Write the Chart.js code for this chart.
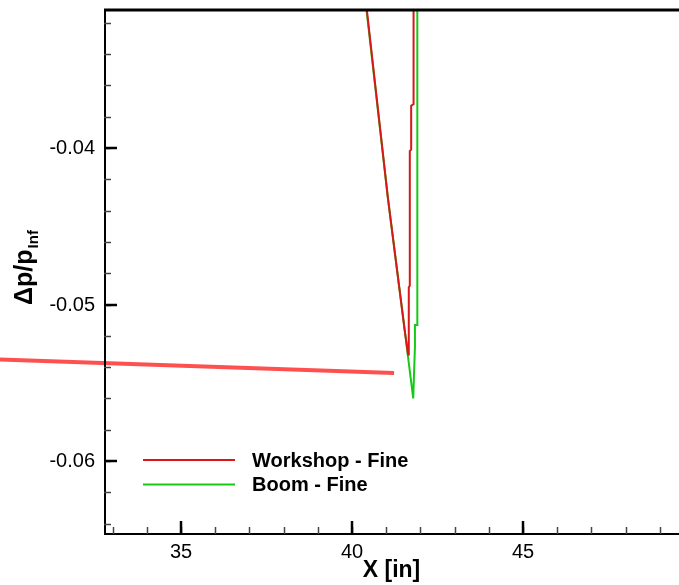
<!DOCTYPE html>
<html>
<head>
<meta charset="utf-8">
<script src="https://cdn.jsdelivr.net/npm/chart.js@4.4.0/dist/chart.umd.min.js"></script>
<style>
  html, body { margin: 0; padding: 0; background: #fff; }
  #wrap { width: 679px; height: 585px; position: relative; }
</style>
</head>
<body>
<div id="wrap"><canvas id="chart"></canvas></div>
<script>
// data
const workshopX = [40.26, 40.43, 41.05, 41.55, 41.64, 41.66, 41.66, 41.69, 41.69, 41.73, 41.73, 41.80, 41.80];
const workshopY = [-0.028, -0.0311, -0.0432, -0.0518, -0.0532, -0.0520, -0.0489, -0.0488, -0.0402, -0.0401, -0.0373, -0.0372, -0.028];
const boomX = [40.24, 40.42, 41.05, 41.55, 41.79, 41.84, 41.84, 41.91, 41.91];
const boomY = [-0.028, -0.0311, -0.0432, -0.0518, -0.0560, -0.0527, -0.0513, -0.0513, -0.028];
const leaderX = [29.71, 41.23];
const leaderY = [-0.05351, -0.05438];

const xTickValues = [35, 40, 45];
const yTickValues = [-0.04, -0.05, -0.06];
const xMinorStep = 1;
const yMinorStep = 0.002;
const seriesNames = ['Workshop - Fine', 'Boom - Fine'];
const seriesColors = ['#d81818', '#18c818'];

function toPoints(xs, ys) {
  return xs.map((x, i) => ({ x: x, y: ys[i] }));
}

// axes, ticks, labels, legend drawn by hand (tecplot style, ticks inward)
const frame = {
  id: 'frame',
  afterDraw(chart) {
    const ctx = chart.ctx;
    const a = chart.chartArea;
    const xs = chart.scales.x;
    const ys = chart.scales.y;
    ctx.save();
    ctx.strokeStyle = '#000';
    ctx.fillStyle = '#000';

    // frame
    ctx.lineWidth = 3;
    ctx.beginPath();
    ctx.moveTo(a.left, a.top + 1);
    ctx.lineTo(a.right, a.top + 1);
    ctx.stroke();
    ctx.lineWidth = 2;
    ctx.beginPath();
    ctx.moveTo(a.left + 1, a.top);
    ctx.lineTo(a.left + 1, a.bottom);
    ctx.lineTo(a.right, a.bottom);
    ctx.stroke();

    // minor ticks
    ctx.lineWidth = 1.5;
    ctx.strokeStyle = '#444';
    for (let v = Math.ceil(xs.min / xMinorStep) * xMinorStep; v <= xs.max; v += xMinorStep) {
      const px = Math.round(xs.getPixelForValue(v)) + 0.5;
      ctx.beginPath();
      ctx.moveTo(px, a.bottom);
      ctx.lineTo(px, a.bottom - 7);
      ctx.stroke();
    }
    for (let v = Math.ceil(ys.min / yMinorStep) * yMinorStep; v <= ys.max; v += yMinorStep) {
      const py = Math.round(ys.getPixelForValue(v)) + 0.5;
      ctx.beginPath();
      ctx.moveTo(a.left, py);
      ctx.lineTo(a.left + 7, py);
      ctx.stroke();
    }

    // major ticks + labels
    ctx.lineWidth = 2.5;
    ctx.strokeStyle = '#000';
    ctx.font = '20px "Liberation Sans", Arial, sans-serif';
    ctx.textAlign = 'center';
    ctx.textBaseline = 'middle';
    xTickValues.forEach(v => {
      const px = Math.round(xs.getPixelForValue(v));
      ctx.beginPath();
      ctx.moveTo(px, a.bottom);
      ctx.lineTo(px, a.bottom - 13);
      ctx.stroke();
      ctx.fillText(String(v), px, a.bottom + 18);
    });
    ctx.textAlign = 'right';
    yTickValues.forEach(v => {
      const py = Math.round(ys.getPixelForValue(v));
      ctx.beginPath();
      ctx.moveTo(a.left, py);
      ctx.lineTo(a.left + 13, py);
      ctx.stroke();
      ctx.fillText(v.toFixed(2), a.left - 9, py);
    });

    // x title
    ctx.font = 'bold 23px "Liberation Sans", Arial, sans-serif';
    ctx.textAlign = 'center';
    ctx.fillText('X [in]', (a.left + a.right) / 2, a.bottom + 37);

    // y title, rotated, with subscript
    ctx.save();
    ctx.translate(28, 268);
    ctx.rotate(-Math.PI / 2);
    ctx.textAlign = 'left';
    ctx.textBaseline = 'middle';
    const bigFont = 'bold 25px "Liberation Sans", Arial, sans-serif';
    const subFont = 'bold 15px "Liberation Sans", Arial, sans-serif';
    ctx.font = bigFont;
    const main = '\u0394p/p';
    const w = ctx.measureText(main).width;
    ctx.font = subFont;
    const ws = ctx.measureText('Inf').width;
    const start = -(w + ws) / 2;
    ctx.font = bigFont;
    ctx.fillText(main, start, -3);
    ctx.font = subFont;
    ctx.fillText('Inf', start + w + 1, 6);
    ctx.restore();

    // legend
    ctx.font = 'bold 20px "Liberation Sans", Arial, sans-serif';
    ctx.textAlign = 'left';
    ctx.textBaseline = 'middle';
    seriesNames.forEach((name, i) => {
      const ly = a.top + 451 + i * 24.5;
      ctx.strokeStyle = seriesColors[i];
      ctx.lineWidth = 2;
      ctx.beginPath();
      ctx.moveTo(a.left + 39, ly);
      ctx.lineTo(a.left + 131, ly);
      ctx.stroke();
      ctx.fillStyle = '#000';
      ctx.fillText(name, a.left + 148, ly + 1);
    });
    ctx.restore();
  }
};

new Chart(document.getElementById('chart'), {
  type: 'scatter',
  data: {
    datasets: [
      {
        label: 'leader',
        data: toPoints(leaderX, leaderY),
        showLine: true,
        borderColor: '#ff5050',
        borderWidth: 4,
        pointRadius: 0,
        clip: false
      },
      {
        label: seriesNames[0],
        data: toPoints(workshopX, workshopY),
        showLine: true,
        borderColor: seriesColors[0],
        borderWidth: 2,
        pointRadius: 0
      },
      {
        label: seriesNames[1],
        data: toPoints(boomX, boomY),
        showLine: true,
        borderColor: seriesColors[1],
        borderWidth: 2,
        pointRadius: 0
      }
    ]
  },
  options: {
    responsive: true,
    maintainAspectRatio: false,
    animation: false,
    layout: { padding: { left: 104, top: 9, right: 0, bottom: 51 } },
    plugins: {
      legend: { display: false },
      tooltip: { enabled: false }
    },
    scales: {
      x: {
        type: 'linear',
        min: 32.75,
        max: 49.56,
        display: false
      },
      y: {
        type: 'linear',
        min: -0.06466,
        max: -0.03112,
        display: false
      }
    }
  },
  plugins: [frame]
});
</script>
</body>
</html>
